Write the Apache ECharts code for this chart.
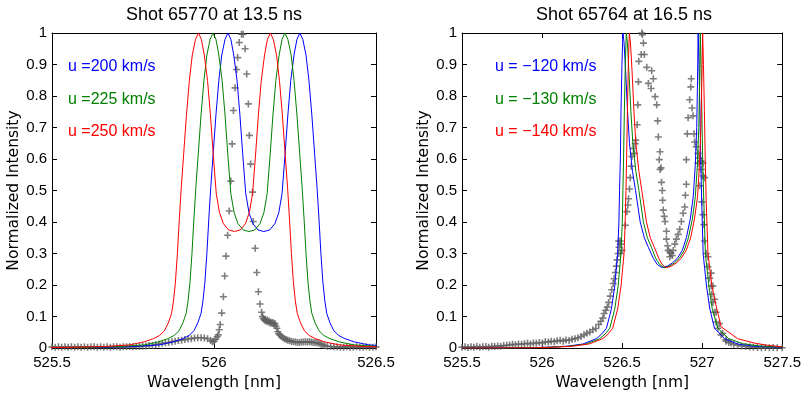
<!DOCTYPE html>
<html><head><meta charset="utf-8">
<script src="https://cdn.jsdelivr.net/npm/echarts/dist/echarts.min.js"></script>
<style>html,body{margin:0;padding:0;background:#fff}#c{width:804px;height:396px}</style>
</head><body><div id="c"></div>
<script>
// ---------- titles / labels ----------
const titles = ['Shot 65770 at 13.5 ns', 'Shot 65764 at 16.5 ns'];
const leftLabels = ['u =200 km/s', 'u =225 km/s', 'u =250 km/s'];
const rightLabels = ['u = \u2212120 km/s', 'u = \u2212130 km/s', 'u = \u2212140 km/s'];
const xName = 'Wavelength [nm]';
const yName = 'Normalized Intensity';
const leftXRange = [525.5, 526.5];
const rightXRange = [525.5, 527.5];
const xTickStep = 0.5;
const yRange = [0, 1];
const yTickStep = 0.1;

// ---------- left panel model curves ----------
const leftModelY = [0.001,0.002,0.005,0.01,0.02,0.03,0.04,0.055,0.08,0.11,0.15,0.21,0.30,0.41,0.51,0.61,0.74,0.85,0.93,0.98,
  1.0,0.98,0.93,0.85,0.74,0.61,0.49,0.43,0.395,0.375,0.37,0.375,0.395,0.43,0.49,0.61,0.74,0.85,0.93,0.98,
  1.0,0.98,0.93,0.85,0.74,0.61,0.51,0.41,0.30,0.21,0.15,0.11,0.08,0.055,0.04,0.03,0.02,0.01,0.005,0.002,0.001];
const leftBlueX = [525.426,525.629,525.753,525.830,525.876,525.904,525.923,525.938,525.950,525.960,
  525.966,525.972,525.978,525.984,525.990,525.997,526.006,526.015,526.024,526.034,
  526.043,526.052,526.061,526.071,526.080,526.089,526.098,526.108,526.120,526.136,
  526.154,526.172,526.188,526.200,526.210,526.219,526.228,526.237,526.247,526.256,
  526.265,526.274,526.284,526.293,526.302,526.311,526.318,526.324,526.330,526.336,
  526.342,526.348,526.358,526.370,526.385,526.404,526.432,526.478,526.555,526.679,526.882];
const leftGreenX = [525.380,525.583,525.707,525.784,525.830,525.858,525.877,525.892,525.904,525.914,
  525.920,525.926,525.932,525.938,525.944,525.951,525.960,525.969,525.978,525.988,
  525.997,526.006,526.015,526.025,526.034,526.043,526.052,526.062,526.074,526.090,
  526.108,526.126,526.142,526.154,526.164,526.173,526.182,526.191,526.201,526.210,
  526.219,526.228,526.238,526.247,526.256,526.265,526.272,526.278,526.284,526.290,
  526.296,526.302,526.312,526.324,526.339,526.358,526.386,526.432,526.509,526.633,526.836];
const leftRedX = [525.335,525.538,525.662,525.739,525.785,525.813,525.832,525.847,525.859,525.869,
  525.875,525.881,525.887,525.893,525.899,525.906,525.915,525.924,525.933,525.943,
  525.952,525.961,525.970,525.980,525.989,525.998,526.007,526.017,526.029,526.045,
  526.063,526.081,526.097,526.109,526.119,526.128,526.137,526.146,526.156,526.165,
  526.174,526.183,526.193,526.202,526.211,526.220,526.227,526.233,526.239,526.245,
  526.251,526.257,526.267,526.279,526.294,526.313,526.341,526.387,526.464,526.588,526.791];

// ---------- left panel measured data ----------
const leftData = [[525.50,0.004],[525.51,0.003],[525.52,0.004],[525.53,0.003],[525.54,0.004],[525.55,0.003],[525.56,0.004],[525.57,0.003],[525.58,0.004],[525.59,0.003],
  [525.60,0.004],[525.61,0.003],[525.62,0.004],[525.63,0.004],[525.64,0.003],[525.65,0.004],[525.66,0.003],[525.67,0.004],[525.68,0.003],[525.69,0.004],
  [525.70,0.004],[525.71,0.003],[525.72,0.004],[525.73,0.004],[525.74,0.005],[525.75,0.004],[525.76,0.005],[525.77,0.005],[525.78,0.006],[525.79,0.007],
  [525.80,0.008],[525.81,0.009],[525.82,0.011],[525.83,0.013],[525.84,0.015],[525.85,0.017],[525.86,0.018],[525.87,0.020],[525.88,0.022],[525.89,0.024],
  [525.90,0.025],[525.91,0.027],[525.92,0.029],[525.93,0.030],[525.94,0.032],[525.95,0.033],[525.96,0.033],[525.97,0.032],[525.98,0.030],[525.99,0.024],
  [525.995,0.020],[526.000,0.022],[526.005,0.028],[526.010,0.036],[526.013,0.042],[526.016,0.058],[526.019,0.075],[526.024,0.111],[526.029,0.163],[526.033,0.229],
  [526.037,0.292],[526.042,0.358],[526.047,0.435],[526.052,0.530],[526.056,0.648],[526.060,0.754],[526.065,0.826],[526.070,0.884],[526.073,0.922],[526.078,0.970],
  [526.085,0.996],[526.090,0.996],[526.096,0.950],[526.101,0.870],[526.106,0.775],[526.109,0.675],[526.113,0.584],[526.119,0.495],[526.121,0.402],[526.127,0.317],
  [526.132,0.240],[526.137,0.179],[526.142,0.140],[526.147,0.114],[526.150,0.100],[526.152,0.094],[526.155,0.090],[526.158,0.088],[526.161,0.085],[526.164,0.089],
  [526.167,0.083],[526.170,0.086],[526.173,0.080],[526.176,0.082],[526.179,0.078],[526.182,0.081],[526.185,0.076],[526.188,0.078],[526.191,0.070],[526.194,0.063],
  [526.197,0.052],[526.200,0.045],[526.204,0.041],[526.208,0.037],[526.213,0.033],[526.218,0.030],[526.223,0.027],[526.228,0.025],[526.234,0.023],[526.240,0.021],
  [526.246,0.020],[526.252,0.019],[526.258,0.018],[526.264,0.018],[526.270,0.019],[526.276,0.019],[526.282,0.020],[526.288,0.019],[526.294,0.020],[526.300,0.019],
  [526.306,0.018],[526.312,0.018],[526.318,0.017],[526.324,0.015],[526.330,0.012],[526.336,0.010],[526.342,0.008],[526.350,0.006],[526.360,0.005],[526.370,0.004],
  [526.380,0.004],[526.390,0.003],[526.400,0.003],[526.410,0.004],[526.420,0.003],[526.430,0.003],[526.440,0.004],[526.450,0.003],[526.460,0.003],[526.470,0.004],
  [526.480,0.003],[526.490,0.003],[526.500,0.004]];

// ---------- right panel model curves ----------
const rightBlue = [[525.500,0.000],[525.735,0.0005],[525.921,0.001],[526.045,0.003],[526.156,0.006],[526.255,0.013],[526.340,0.030],[526.373,0.045],[526.402,0.063],[526.433,0.124],
  [526.454,0.197],[526.472,0.30],[526.480,0.40],[526.484,0.50],[526.489,0.60],[526.493,0.75],[526.499,0.90],[526.505,1.00],[526.512,0.97],[526.522,0.88],
  [526.534,0.75],[526.546,0.65],[526.565,0.56],[526.584,0.50],[526.613,0.40],[526.639,0.35],[526.664,0.32],[526.695,0.285],[526.720,0.265],[526.751,0.255],
  [526.782,0.26],[526.814,0.27],[526.845,0.285],[526.876,0.31],[526.901,0.35],[526.926,0.41],[526.944,0.48],[526.957,0.58],[526.966,0.70],[526.971,0.85],
  [526.975,1.00],[526.980,0.90],[526.986,0.75],[526.991,0.60],[526.997,0.47],[527.006,0.30],[527.027,0.197],[527.048,0.124],[527.077,0.063],[527.139,0.030],
  [527.221,0.013],[527.325,0.006],[527.500,0.002]];
const rightGreen = [[525.500,0.000],[525.735,0.0005],[525.940,0.001],[526.063,0.003],[526.175,0.006],[526.274,0.013],[526.361,0.030],[526.394,0.045],[526.423,0.063],[526.454,0.124],
  [526.475,0.197],[526.493,0.30],[526.501,0.40],[526.505,0.50],[526.509,0.60],[526.514,0.75],[526.520,0.90],[526.526,1.00],[526.533,0.97],[526.542,0.88],
  [526.555,0.75],[526.567,0.65],[526.586,0.56],[526.605,0.50],[526.633,0.40],[526.658,0.35],[526.683,0.32],[526.710,0.285],[526.735,0.265],[526.763,0.255],
  [526.795,0.26],[526.826,0.27],[526.857,0.285],[526.888,0.31],[526.914,0.35],[526.939,0.41],[526.957,0.48],[526.970,0.58],[526.979,0.70],[526.984,0.85],
  [526.988,1.00],[526.993,0.90],[526.998,0.75],[527.003,0.60],[527.010,0.47],[527.020,0.30],[527.042,0.197],[527.063,0.124],[527.098,0.063],[527.166,0.030],
  [527.252,0.014],[527.358,0.007],[527.500,0.003]];
const rightRed = [[525.500,0.000],[525.735,0.0005],[525.958,0.001],[526.082,0.003],[526.193,0.006],[526.293,0.013],[526.379,0.030],[526.413,0.045],[526.441,0.063],[526.472,0.124],
  [526.493,0.197],[526.512,0.30],[526.519,0.40],[526.524,0.50],[526.528,0.60],[526.533,0.75],[526.539,0.90],[526.545,1.00],[526.552,0.97],[526.562,0.88],
  [526.574,0.75],[526.586,0.65],[526.605,0.56],[526.623,0.50],[526.652,0.40],[526.676,0.35],[526.701,0.32],[526.729,0.285],[526.750,0.265],[526.775,0.255],
  [526.807,0.26],[526.838,0.27],[526.869,0.285],[526.900,0.31],[526.928,0.35],[526.952,0.41],[526.971,0.48],[526.983,0.58],[526.992,0.70],[526.998,0.85],
  [527.003,1.00],[527.008,0.90],[527.014,0.75],[527.019,0.60],[527.025,0.47],[527.036,0.30],[527.061,0.197],[527.082,0.145],[527.118,0.068],[527.221,0.030],
  [527.325,0.016],[527.407,0.009],[527.500,0.004]];

// ---------- right panel measured data ----------
const rightData = [[525.500,0.003],[525.519,0.004],[525.537,0.002],[525.556,0.004],[525.574,0.003],[525.593,0.005],[525.611,0.003],[525.630,0.004],[525.649,0.005],[525.667,0.003],
  [525.686,0.006],[525.704,0.005],[525.723,0.007],[525.741,0.006],[525.760,0.008],[525.779,0.009],[525.797,0.010],[525.816,0.012],[525.834,0.011],[525.853,0.013],
  [525.872,0.012],[525.890,0.014],[525.909,0.015],[525.927,0.013],[525.946,0.016],[525.964,0.015],[525.983,0.018],[526.002,0.016],[526.020,0.020],[526.039,0.019],
  [526.057,0.022],[526.076,0.020],[526.094,0.023],[526.113,0.025],[526.132,0.022],[526.150,0.026],[526.169,0.024],[526.187,0.028],[526.206,0.030],[526.224,0.033],
  [526.243,0.037],[526.262,0.042],[526.280,0.047],[526.299,0.051],[526.317,0.058],[526.336,0.062],[526.354,0.075],[526.367,0.085],[526.379,0.095],[526.387,0.110],
  [526.398,0.120],[526.407,0.130],[526.416,0.145],[526.426,0.165],[526.435,0.185],[526.444,0.205],[526.450,0.220],[526.458,0.240],[526.464,0.260],[526.469,0.280],
  [526.475,0.300],[526.481,0.320],[526.488,0.340],[526.478,0.340],[526.489,0.330],[526.499,0.310],[526.489,0.300],[526.520,0.390],[526.530,0.433],[526.536,0.454],
  [526.540,0.474],[526.546,0.505],[526.551,0.541],[526.557,0.577],[526.561,0.608],[526.571,0.634],[526.577,0.618],[526.582,0.649],[526.585,0.660],[526.594,0.709],
  [526.598,0.772],[526.602,0.845],[526.604,0.910],[526.619,0.932],[526.623,1.000],[526.627,0.995],[526.633,0.968],[526.639,0.932],[526.654,0.891],[526.664,0.840],
  [526.681,0.824],[526.685,0.880],[526.695,0.855],[526.706,0.798],[526.716,0.772],[526.722,0.721],[526.726,0.670],[526.732,0.598],[526.737,0.623],[526.737,0.567],
  [526.743,0.572],[526.746,0.526],[526.751,0.500],[526.753,0.469],[526.757,0.438],[526.763,0.418],[526.768,0.402],[526.777,0.371],[526.777,0.346],[526.784,0.325],
  [526.788,0.310],[526.798,0.305],[526.798,0.290],[526.805,0.300],[526.813,0.294],[526.819,0.310],[526.829,0.330],[526.839,0.346],[526.850,0.361],[526.860,0.377],
  [526.870,0.402],[526.881,0.428],[526.891,0.448],[526.895,0.485],[526.901,0.520],[526.901,0.598],[526.907,0.680],[526.912,0.731],[526.922,0.788],[526.929,0.829],
  [526.932,0.855],[526.937,0.762],[526.943,0.737],[526.949,0.680],[526.953,0.654],[526.963,0.639],[526.974,0.618],[526.974,0.587],[526.984,0.603],[526.984,0.515],
  [526.994,0.593],[526.994,0.567],[526.998,0.464],[527.005,0.587],[527.005,0.546],[527.005,0.423],[527.011,0.392],[527.015,0.541],[527.015,0.340],[527.025,0.300],
  [527.036,0.290],[527.036,0.258],[527.046,0.222],[527.056,0.238],[527.056,0.197],[527.060,0.171],[527.067,0.197],[527.067,0.145],[527.077,0.155],[527.077,0.114],
  [527.087,0.114],[527.087,0.083],[527.098,0.063],[527.108,0.078],[527.118,0.042],[527.128,0.047],[527.149,0.027],[527.149,0.022],[527.166,0.018],[527.180,0.016],
  [527.197,0.012],[527.221,0.009],[527.246,0.007],[527.271,0.005],[527.296,0.004],[527.320,0.003],[527.345,0.002],[527.370,0.001],[527.395,0.002],[527.420,0.001],
  [527.444,0.002],[527.469,0.001],[527.500,0.001]];

// ---------- build ----------
const BLUE = '#0000ff', GREEN = '#008000', RED = '#ff0000', GRAY = '#5e5e5e';
const PLUS = 'path://M0,2.7H7V4.3H0Z M2.7,0H4.3V7H2.7Z';
const zipXY = (xs, ys) => xs.map((x, i) => [x, ys[i]]);

const chart = echarts.init(document.getElementById('c'), null, {renderer: 'canvas'});

function xAx(grid, range, pos, labels) {
  return {
    type: 'value', gridIndex: grid, position: pos, min: range[0], max: range[1], interval: xTickStep,
    axisLine: {show: true, onZero: false, lineStyle: {color: '#000', width: 1}},
    axisTick: {show: true, inside: true, length: 5, lineStyle: {color: '#000', width: 1}},
    axisLabel: {show: labels, color: '#000', fontFamily: 'Liberation Sans', fontSize: 15, margin: 7},
    splitLine: {show: false},
    name: labels ? xName : '', nameLocation: 'middle', nameGap: 20,
    nameTextStyle: {color: '#000', fontFamily: 'DejaVu Sans', fontSize: 15.5}
  };
}
function yAx(grid, pos, labels) {
  return {
    type: 'value', gridIndex: grid, position: pos, min: yRange[0], max: yRange[1], interval: yTickStep,
    axisLine: {show: true, onZero: false, lineStyle: {color: '#000', width: 1}},
    axisTick: {show: true, inside: true, length: 5, lineStyle: {color: '#000', width: 1}},
    axisLabel: {show: labels, color: '#000', fontFamily: 'Liberation Sans', fontSize: 15, margin: 5},
    splitLine: {show: false},
    name: labels ? yName : '', nameLocation: 'middle', nameGap: 28,
    nameTextStyle: {color: '#000', fontFamily: 'DejaVu Sans', fontSize: 15.5}
  };
}
function lineS(data, color, xi, yi) {
  return {type: 'line', data: data, xAxisIndex: xi, yAxisIndex: yi, showSymbol: false, symbol: 'none',
    lineStyle: {color: color, width: 1}, clip: true, silent: true, z: 3};
}
function dataS(data, xi, yi) {
  return {type: 'scatter', data: data, xAxisIndex: xi, yAxisIndex: yi, symbol: PLUS, symbolSize: 7,
    itemStyle: {color: GRAY}, clip: true, silent: true, z: 2};
}
function label(text, x, y, color, size, align) {
  return {type: 'text', x: x, y: y, silent: true,
    style: {text: text, fill: color, font: size + 'px "Liberation Sans", Arial, sans-serif', align: align || 'left', verticalAlign: 'middle'}};
}

const option = {
  animation: false,
  backgroundColor: '#fff',
  grid: [
    {left: 52, top: 33, width: 324, height: 324, containLabel: false},
    {left: 462, top: 33, width: 323, height: 324, containLabel: false}
  ],
  xAxis: [xAx(0, leftXRange, 'bottom', true), xAx(0, leftXRange, 'top', false),
          xAx(1, rightXRange, 'bottom', true), xAx(1, rightXRange, 'top', false)],
  yAxis: [yAx(0, 'left', true), yAx(0, 'right', false), yAx(1, 'left', true), yAx(1, 'right', false)],
  series: [
    dataS(leftData, 0, 0),
    lineS(zipXY(leftBlueX, leftModelY), BLUE, 0, 0),
    lineS(zipXY(leftGreenX, leftModelY), GREEN, 0, 0),
    lineS(zipXY(leftRedX, leftModelY), RED, 0, 0),
    dataS(rightData, 2, 2),
    lineS(rightBlue, BLUE, 2, 2),
    lineS(rightGreen, GREEN, 2, 2),
    lineS(rightRed, RED, 2, 2)
  ],
  graphic: [
    label(titles[0], 214, 15, '#000', 18, 'center'),
    label(titles[1], 624, 15, '#000', 18, 'center'),
    label(leftLabels[0], 68, 67, BLUE, 16),
    label(leftLabels[1], 68, 100, GREEN, 16),
    label(leftLabels[2], 68, 132, RED, 16),
    label(rightLabels[0], 495, 67, BLUE, 16),
    label(rightLabels[1], 495, 100, GREEN, 16),
    label(rightLabels[2], 495, 132, RED, 16)
  ]
};
chart.setOption(option);
</script></body></html>
